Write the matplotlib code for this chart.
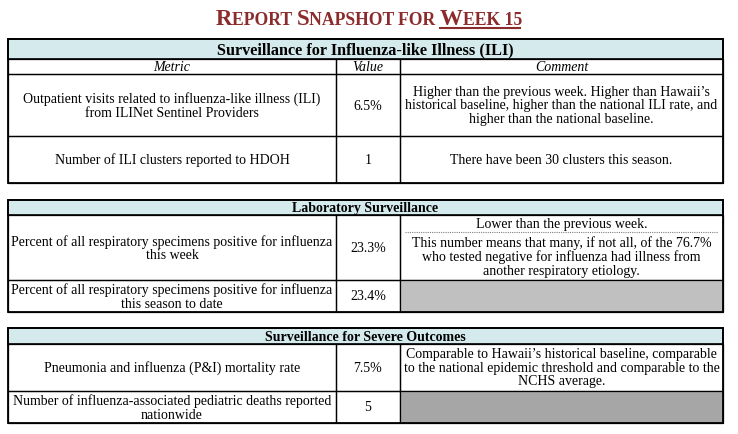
import matplotlib
matplotlib.use("Agg")
import matplotlib.pyplot as plt
from matplotlib.patches import Rectangle

plt.rcParams['font.family'] = ['Liberation Serif', 'DejaVu Serif']

title_parts = [("R", 16.5), ("EPORT ", 12.7), ("S", 16.5), ("NAPSHOT ", 12.7), ("FOR ", 12.7), ("W", 16.5), ("EEK 15", 12.7)]

ili_rows = [
    ("Outpatient visits related to influenza-like illness (ILI)\nfrom ILINet Sentinel Providers", "6.5%",
     "Higher than the previous week. Higher than Hawaii\u2019s\nhistorical baseline, higher than the national ILI rate, and\nhigher than the national baseline."),
    ("Number of ILI clusters reported to HDOH", "1", "There have been 30 clusters this season."),
]
lab_rows = [
    ("Percent of all respiratory specimens positive for influenza\nthis week", "23.3%", None),
    ("Percent of all respiratory specimens positive for influenza\nthis season to date", "23.4%", None),
]
lab_comment_top = "Lower than the previous week."
lab_comment_bottom = "This number means that many, if not all, of the 76.7%\nwho tested negative for influenza had illness from\nanother respiratory etiology."
sev_rows = [
    ("Pneumonia and influenza (P&I) mortality rate", "7.5%",
     "Comparable to Hawaii\u2019s historical baseline, comparable\nto the national epidemic threshold and comparable to the\nNCHS average."),
    ("Number of influenza-associated pediatric deaths reported\nnationwide", "5", None),
]

fig = plt.figure(figsize=(7.38, 4.35), dpi=100)
ax = fig.add_axes([0, 0, 1, 1])
ax.set_xlim(0, 738)
ax.set_ylim(435, 0)
ax.axis('off')

L, C1, C2, R = 8, 336, 400, 723
HEAD = '#d5eaec'
FS = 10
LS = 1.05

def box(x0, y0, x1, y1, fc='none', lw=0.9):
    ax.add_patch(Rectangle((x0, y0), x1 - x0, y1 - y0, facecolor=fc, edgecolor='black', lw=lw))

def row(y0, y1, metric, value, comment, gray=None):
    box(L, y0, C1, y1)
    box(C1, y0, C2, y1)
    box(C2, y0, R, y1, fc=gray if gray else 'none')
    ym = (y0 + y1) / 2
    ax.text((L + C1) / 2, ym, metric, ha='center', va='center', fontsize=FS, linespacing=LS)
    ax.text((C1 + C2) / 2, ym, value, ha='center', va='center', fontsize=FS)
    if comment:
        ax.text((C2 + R) / 2, ym, comment, ha='center', va='center', fontsize=FS, linespacing=LS)

def header(y0, y1, label, fs):
    box(L, y0, R, y1, fc=HEAD, lw=1.2)
    ax.text((L + R) / 2, (y0 + y1) / 2 + 0.5, label, ha='center', va='center', fontsize=fs, weight='bold')

# title in small caps
fig.canvas.draw()
rend = fig.canvas.get_renderer()
widths = []
for s, fs in title_parts:
    t = ax.text(0, 0, s, fontsize=fs, weight='bold')
    widths.append(t.get_window_extent(rend).width)
    t.remove()
x = 369 - sum(widths) / 2
ux0 = None
for (s, fs), w in zip(title_parts, widths):
    ax.text(x, 25, s, fontsize=fs, weight='bold', color='#8b2b2b', va='baseline')
    if s == "W":
        ux0 = x
    x += w
ax.plot([ux0, x - 2], [28.5, 28.5], color='#8b2b2b', lw=1.5)

# table 1
header(40, 60, "Surveillance for Influenza-like Illness (ILI)", 11.7)
box(L, 60, C1, 75); box(C1, 60, C2, 75); box(C2, 60, R, 75)
ax.text((L + C1) / 2, 67.5, "Metric", ha='center', va='center', fontsize=FS, style='italic')
ax.text((C1 + C2) / 2, 67.5, "Value", ha='center', va='center', fontsize=FS, style='italic')
ax.text((C2 + R) / 2, 67.5, "Comment", ha='center', va='center', fontsize=FS, style='italic')
row(75, 137, *ili_rows[0])
row(137, 184, *ili_rows[1])
box(L, 40, R, 184, lw=1.3)

# table 2
header(201, 216, "Laboratory Surveillance", FS)
row(216, 281, *lab_rows[0])
ax.text((C2 + R) / 2, 224.5, lab_comment_top, ha='center', va='center', fontsize=FS)
ax.plot([C2 + 5, R - 5], [233, 233], color='gray', lw=0.8, ls=(0, (1, 1)))
ax.text((C2 + R) / 2, 257, lab_comment_bottom, ha='center', va='center', fontsize=FS, linespacing=LS)
row(281, 313, *lab_rows[1], gray='#c0c0c0')
box(L, 201, R, 313, lw=1.3)

# table 3
header(329, 345, "Surveillance for Severe Outcomes", FS)
row(345, 392, *sev_rows[0])
row(392, 424, *sev_rows[1], gray='#a6a6a6')
box(L, 329, R, 424, lw=1.3)

fig.savefig('out.png', dpi=100)
